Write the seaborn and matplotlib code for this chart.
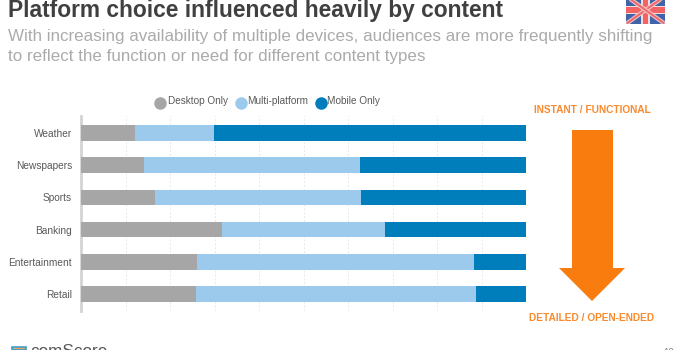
import matplotlib
matplotlib.use("Agg")
import matplotlib.pyplot as plt
from matplotlib.patches import Polygon, Rectangle, FancyBboxPatch
import numpy as np
import pandas as pd
import seaborn as sns

categories = ["Weather", "Newspapers", "Sports", "Banking", "Entertainment", "Retail"]
desktop_only = [12.1, 14.2, 16.6, 31.7, 26.1, 25.8]
multi_platform = [17.8, 48.5, 46.4, 36.6, 62.2, 63.0]
mobile_only = [70.1, 37.3, 37.0, 31.7, 11.7, 11.2]
series_names = ["Desktop Only", "Multi-platform", "Mobile Only"]
colors = ["#A6A6A6", "#9BCAEC", "#007DBB"]

title = "Platform choice influenced heavily by content"
subtitle = ["With increasing availability of multiple devices, audiences are more frequently shifting",
            "to reflect the function or need for different content types"]

W, H = 680, 350
sns.set_style("white")
plt.rcParams["font.family"] = ["Liberation Sans", "DejaVu Sans"]
fig = plt.figure(figsize=(W / 100, H / 100), dpi=100, facecolor="white")
ax = fig.add_axes([81 / W, 1 - 311 / H, 445 / W, 195 / H])

df = pd.DataFrame({"cat": categories, "d": desktop_only, "m": multi_platform, "o": mobile_only})
c1 = df["d"]
c2 = c1 + df["m"]
c3 = c2 + df["o"]
for vals, col in zip([c3, c2, c1], colors[::-1]):
    sns.barplot(x=vals.values, y=df["cat"], color=col, saturation=1, width=0.49,
                ax=ax, orient="y", zorder=3, linewidth=0, errorbar=None)

ax.set_xlim(0, 100)
ax.set_ylim(5.5 + 0.03, -0.5 - 0.03)
ax.set_xlabel("")
ax.set_ylabel("")
ax.set_xticks(np.arange(0, 101, 10))
ax.set_xticklabels([])
ax.grid(axis="x", color="#E8E8E8", linestyle=(0, (2, 2)), linewidth=0.7, zorder=0)
ax.grid(axis="y", visible=False)
sns.despine(ax=ax, top=True, right=True, bottom=True, left=False)
ax.spines["left"].set_color("#D4D4D4")
ax.spines["left"].set_linewidth(2.0)
ax.tick_params(axis="x", length=0)
ax.tick_params(axis="y", length=0, pad=6.5, labelsize=7.3, labelcolor="#595959")

def px(x, y):
    return x / W, 1 - y / H

# heading
fig.text(*px(8, 11), title, fontsize=16.4, fontweight="bold", color="#404040", va="center", ha="left")
fig.text(*px(8, 36), subtitle[0], fontsize=12.25, color="#ABABAB", va="center", ha="left")
fig.text(*px(8, 57), subtitle[1], fontsize=12.25, color="#ABABAB", va="center", ha="left")

# legend
legend_x = [160, 241, 321]
legend_tx = [168, 247, 327]
for lx, tx, name, col in zip(legend_x, legend_tx, series_names, colors):
    fig.add_artist(plt.Line2D([lx / W], [1 - 103 / H], marker="o", markersize=9, color=col,
                              linestyle="none", markeredgewidth=0))
    fig.text(*px(tx, 101), name, fontsize=7.2, color="#595959", va="center", ha="left")

# orange arrow
orange = "#F97C0E"
arrow = [(572, 130), (613, 130), (613, 268), (625, 268), (592, 301), (559, 268), (572, 268)]
fig.add_artist(Polygon([px(*p) for p in arrow], closed=True, facecolor=orange, edgecolor="none",
                       transform=fig.transFigure))
fig.text(*px(592, 110), "INSTANT / FUNCTIONAL", fontsize=7.3, fontweight="bold", color="#F98A2E",
         va="center", ha="center")
fig.text(*px(592, 318), "DETAILED / OPEN-ENDED", fontsize=7.25, fontweight="bold", color="#F98A2E",
         va="center", ha="center")

# flag
fx0, fx1, fy0, fy1 = 626, 665, -4, 24
flag_ax = fig.add_axes([fx0 / W, 1 - fy1 / H, (fx1 - fx0) / W, (fy1 - fy0) / H])
flag_ax.set_xlim(0, 1)
flag_ax.set_ylim(0, 1)
flag_ax.axis("off")
bg = FancyBboxPatch((0.0, 0.0), 1.0, 1.0, boxstyle="round,pad=0,rounding_size=0.06",
                    facecolor="#3F64A8", edgecolor="none")
flag_ax.add_patch(bg)
for a, b in [((0, 0), (1, 1)), ((0, 1), (1, 0))]:
    flag_ax.plot(*zip(a, b), color="#F0C8CC", lw=3, clip_path=bg, solid_capstyle="butt")
    flag_ax.plot(*zip(a, b), color="#EE6A6A", lw=1.5, clip_path=bg, solid_capstyle="butt")
flag_ax.add_patch(Rectangle((0, 0.37), 1, 0.26, facecolor="#F4DADA", edgecolor="none"))
flag_ax.add_patch(Rectangle((0.39, 0), 0.22, 1, facecolor="#F4DADA", edgecolor="none"))
flag_ax.add_patch(Rectangle((0, 0.40), 1, 0.20, facecolor="#F26464", edgecolor="none"))
flag_ax.add_patch(Rectangle((0.43, 0), 0.14, 1, facecolor="#F26464", edgecolor="none"))

# logo and page number, cut by the bottom edge as in the source
fig.text(*px(30, 352), "comScore", fontsize=12.3, color="#555555", va="center", ha="left")
fig.add_artist(Rectangle((12 / W, 0), 14 / W, 3 / H, transform=fig.transFigure, facecolor="#F2A65A",
                         edgecolor="#2E9BD6", linewidth=1.1))
fig.text(*px(663, 353), "12", fontsize=7, color="#888888", va="center", ha="left")

fig.savefig("out.png", dpi=100, facecolor="white")
